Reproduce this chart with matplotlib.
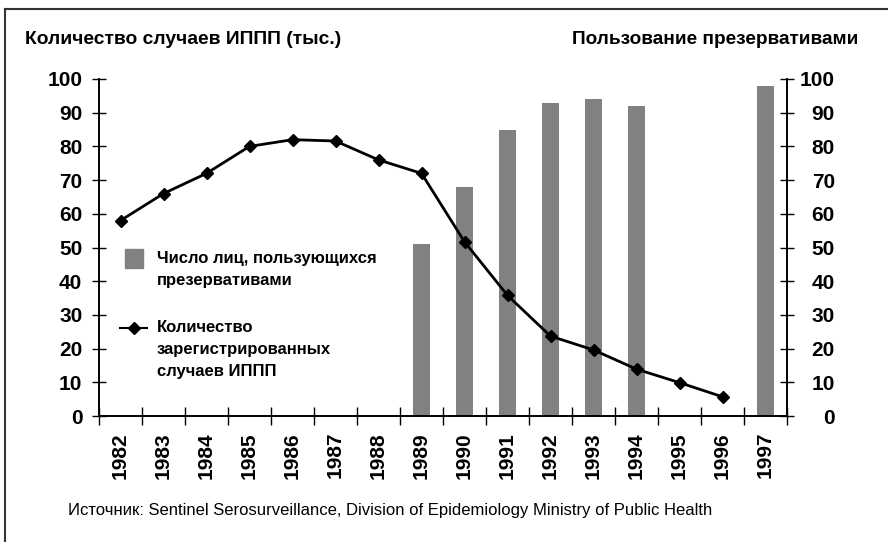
import numpy as np
import matplotlib
matplotlib.use("Agg")
import matplotlib.pyplot as plt
from matplotlib.lines import Line2D
from matplotlib.patches import Rectangle

# data
years = [str(y) for y in range(1982, 1998)]
cases = [58, 66, 72, 80, 82, 81.6, 76, 72, 51.7, 35.8, 23.7, 19.6, 13.9, 9.9, 5.7, np.nan]
condom_use = [np.nan] * 7 + [51, 68, 85, 93, 94, 92, np.nan, np.nan, 98]
yticks = list(range(0, 101, 10))

title_left = "Количество случаев ИППП (тыс.)"
title_right = "Пользование презервативами"
legend_bar = "Число лиц, пользующихся\nпрезервативами"
legend_line = "Количество\nзарегистрированных\nслучаев ИППП"
source = "Источник: Sentinel Serosurveillance, Division of Epidemiology Ministry of Public Health"

BAR = "#808183"
W, H = 888, 542
plt.rcParams["font.family"] = ["Liberation Sans", "DejaVu Sans"]


def px(x, y):
    return x / W, 1 - y / H


fig = plt.figure(figsize=(W / 100, H / 100), dpi=100, facecolor="white")
ax = fig.add_axes([99 / W, (H - 416) / H, 688 / W, 337 / H])
ax2 = ax.twinx()
ax.set_zorder(ax2.get_zorder() + 1)
ax.patch.set_visible(False)

x = np.arange(len(years))
ax2.bar(x, condom_use, width=0.41, color=BAR, zorder=2)
ax.plot(x, cases, color="black", lw=2, marker="D", ms=6.5, zorder=3)

for a in (ax, ax2):
    a.set_xlim(-0.5, len(years) - 0.5)
    a.set_ylim(0, 100)
    a.set_yticks(yticks)
    a.spines["top"].set_visible(False)
    for sp in a.spines.values():
        sp.set_linewidth(1.2)

ax.set_xticks(np.arange(-0.5, len(years)), [])
ax.set_xticks(x, years, minor=True)
ax.tick_params(axis="x", which="major", direction="inout", length=13, width=1)
ax.tick_params(axis="x", which="minor", length=0, pad=11.5)
for t in ax.get_xticklabels(minor=True):
    t.set_rotation(90)
    t.set_fontsize(15)
    t.set_fontweight("bold")

ax.tick_params(axis="y", direction="inout", length=10, width=1, pad=7,
               labelsize=15)
for t in ax.get_yticklabels():
    t.set_fontweight("bold")

ax2.tick_params(axis="y", direction="inout", length=10, width=1, pad=29.5,
                labelsize=15)
for t in ax2.get_yticklabels():
    t.set_fontweight("bold")
    t.set_horizontalalignment("right")

# titles
fig.text(*px(25, 40), title_left, fontsize=13.9, fontweight="bold",
         va="center", ha="left")
fig.text(*px(858, 40), title_right, fontsize=13.7, fontweight="bold",
         va="center", ha="right")

# legend, drawn by hand so handles sit on the first line of text
fig.patches.append(Rectangle(px(125, 268), 18 / W, 19 / H, color=BAR,
                             transform=fig.transFigure, figure=fig))
fig.text(*px(157, 251), legend_bar, fontsize=12, fontweight="bold",
         va="top", ha="left", linespacing=1.6)
fig.lines.append(Line2D([120 / W, 147 / W], [1 - 328 / H] * 2, color="black",
                        lw=1.5, transform=fig.transFigure, figure=fig))
fig.lines.append(Line2D([134 / W], [1 - 328 / H], color="black", marker="D",
                        ms=6.5, transform=fig.transFigure, figure=fig))
fig.text(*px(157, 320), legend_line, fontsize=12, fontweight="bold",
         va="top", ha="left", linespacing=1.6)

fig.text(*px(68, 515), source, fontsize=12, va="baseline", ha="left")

# frame around the figure (cropped on right and bottom)
fig.lines.append(Line2D([5 / W, 5 / W], [0, 1 - 9 / H], color="#333333",
                        lw=1.5, transform=fig.transFigure, figure=fig))
fig.lines.append(Line2D([5 / W, 1], [1 - 9 / H] * 2, color="#333333",
                        lw=1.5, transform=fig.transFigure, figure=fig))

fig.savefig("out.png", dpi=100)
